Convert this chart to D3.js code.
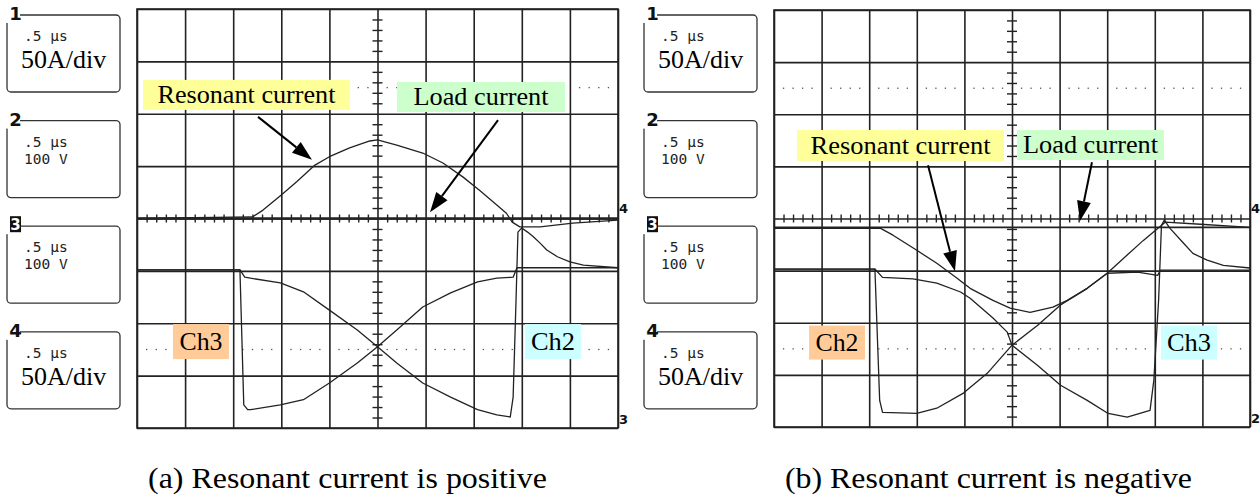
<!DOCTYPE html>
<html>
<head>
<meta charset="utf-8">
<script src="https://cdn.jsdelivr.net/npm/d3@7"></script>
<style>
  body { margin: 0; background: #fff; }
  svg { display: block; }
</style>
</head>
<body>
<div id="chart"></div>
<script>
////////////////////////////////////////////////////////////////////////
// Data read off the two scope captures.
// Each trace is [time (us), level (divisions from screen centre)]
// Time base 0.5 us/div, 10 divisions -> 0..5 us, 8 vertical divisions.

// (a) resonant current is positive
let resonantA = [[0,0],[1.20,0.03],[1.31,0.16],[1.50,0.45],[1.66,0.70],[1.85,1.02],[2.00,1.18],
  [2.21,1.35],[2.42,1.48],[2.50,1.50],[2.70,1.40],[2.97,1.25],[3.18,1.06],[3.39,0.79],[3.56,0.54],
  [3.74,0.26],[3.84,0.10],[3.90,-0.07],[3.98,-0.16],[4.19,-0.16],[4.53,-0.09],[5.00,-0.03]];
let loadA = [[0,0],[5,0]];
let ch3A = [[0,-0.98],[1.07,-0.98],[1.11,-3.56],[1.15,-3.65],[1.18,-3.65],[1.49,-3.56],[1.73,-3.46],
  [2.00,-3.14],[2.29,-2.76],[2.50,-2.45],[2.70,-2.13],[2.97,-1.69],[3.26,-1.42],[3.54,-1.21],
  [3.74,-1.14],[3.91,-1.12],[3.95,-0.94],[5.00,-0.94]];
let ch2A = [[0,-0.98],[1.07,-0.98],[1.12,-1.12],[1.18,-1.14],[1.49,-1.23],[1.73,-1.40],[2.00,-1.75],
  [2.29,-2.13],[2.50,-2.45],[2.70,-2.76],[2.97,-3.14],[3.26,-3.41],[3.54,-3.65],[3.74,-3.75],
  [3.88,-3.79],[3.91,-3.41],[3.94,-1.56],[3.96,-0.26],[4.00,-0.18],[4.06,-0.26],[4.12,-0.35],
  [4.19,-0.47],[4.26,-0.60],[4.37,-0.73],[4.50,-0.83],[4.64,-0.89],[5.00,-0.94]];

// (b) resonant current is negative
let resonantB = [[0,-0.19],[1.12,-0.19],[1.25,-0.32],[1.50,-0.61],[1.71,-0.86],[1.92,-1.14],
  [2.06,-1.34],[2.30,-1.57],[2.48,-1.72],[2.69,-1.80],[2.93,-1.70],[3.08,-1.57],[3.29,-1.34],
  [3.50,-1.05],[3.71,-0.70],[3.88,-0.42],[4.03,-0.19],[4.11,-0.07],[4.48,-0.11],[5.00,-0.17]];
let loadB = [[0,-0.17],[5,-0.17]];
let ch2B = [[0,-0.97],[1.06,-0.97],[1.11,-3.49],[1.14,-3.72],[1.50,-3.74],[1.71,-3.64],[1.99,-3.35],
  [2.24,-2.97],[2.50,-2.43],[2.77,-2.05],[3.01,-1.66],[3.29,-1.34],[3.50,-1.05],[3.82,-1.03],
  [4.03,-1.09],[4.06,-0.99],[5.00,-0.99]];
let ch3B = [[0,-0.97],[1.06,-0.97],[1.14,-1.13],[1.46,-1.16],[1.71,-1.24],[1.96,-1.41],[2.06,-1.53],
  [2.30,-1.91],[2.45,-2.18],[2.50,-2.43],[2.77,-2.82],[3.01,-3.20],[3.29,-3.49],[3.51,-3.74],
  [3.71,-3.81],[3.95,-3.68],[3.99,-3.10],[4.04,-1.57],[4.07,-0.13],[4.10,-0.03],[4.16,-0.19],
  [4.30,-0.47],[4.40,-0.67],[4.55,-0.80],[4.72,-0.90],[5.00,-0.95]];

// channel readouts on the left of each screen
let channelIds = ["1", "2", "3", "4"];
let timeBase = [".5 μs", ".5 μs", ".5 μs", ".5 μs"];
let channelScale = ["50A/div", "100 V", "100 V", "50A/div"];

// annotation texts
let labelTextsA = ["Resonant current", "Load current", "Ch3", "Ch2"];
let labelTextsB = ["Resonant current", "Load current", "Ch2", "Ch3"];
let captions = ["(a) Resonant current is positive", "(b) Resonant current is negative"];

////////////////////////////////////////////////////////////////////////

let width = 1260;
let height = 497;
let serif = "'Liberation Serif','Times New Roman',serif";
let mono = "'DejaVu Sans Mono','Liberation Mono',monospace";
let sans = "'DejaVu Sans','Liberation Sans',sans-serif";
let ink = "#222";

let svg = d3.select("#chart")
  .append("svg")
  .attr("width", width).attr("height", height);

// label styles, positions in data units (t, v)
let labelFills = ["#ffff99", "#ccffcc", "#ffcc99", "#ccffff"];

let panels = [
  {
    left: 137, right: 618, top: 9, bottom: 428,
    traces: [ {d: resonantA, w: 1.3}, {d: loadA, w: 2.6}, {d: ch3A, w: 1.3}, {d: ch2A, w: 1.3} ],
    labels: [
      {t: 1.138, v: 2.36, w: 207, h: 30, len: 178, size: 25, fill: labelFills[0]},
      {t: 3.576, v: 2.32, w: 168, h: 30, len: 135, size: 25, fill: labelFills[1]},
      {t: 0.665, v: -2.35, w: 56, h: 35, len: 43, size: 26, fill: labelFills[2]},
      {t: 4.324, v: -2.35, w: 56, h: 35, len: 44, size: 26, fill: labelFills[3]}
    ],
    texts: labelTextsA,
    arrows: [ {t0: 1.258, v0: 1.94, t1: 1.819, v1: 1.12}, {t0: 3.753, v0: 1.88, t1: 3.046, v1: 0.12} ],
    markers: [ {txt: "4", v: 0.22}, {txt: "3", v: -3.8} ],
    caption: captions[0], capLen: 399
  },
  {
    left: 774, right: 1250, top: 10, bottom: 427,
    traces: [ {d: resonantB, w: 1.3}, {d: loadB, w: 1.8}, {d: ch2B, w: 1.3}, {d: ch3B, w: 1.3} ],
    labels: [
      {t: 1.329, v: 1.40, w: 207, h: 31, len: 180, size: 25, fill: labelFills[0]},
      {t: 3.325, v: 1.41, w: 147, h: 30, len: 135, size: 25, fill: labelFills[1]},
      {t: 0.662, v: -2.38, w: 56, h: 34, len: 43, size: 26, fill: labelFills[2]},
      {t: 4.359, v: -2.38, w: 56, h: 34, len: 44, size: 26, fill: labelFills[3]}
    ],
    texts: labelTextsB,
    arrows: [ {t0: 1.618, v0: 1.02, t1: 1.901, v1: -1.01}, {t0: 3.340, v0: 1.08, t1: 3.214, v1: -0.05} ],
    markers: [ {txt: "4", v: 0.22}, {txt: "2", v: -3.8} ],
    caption: captions[1], capLen: 407
  }
];

////////////////////////////////////////////////////////////////////////

panels.forEach(function(p) {
  let x = d3.scaleLinear().domain([0, 5]).range([p.left, p.right]);
  let y = d3.scaleLinear().domain([-4, 4]).range([p.bottom, p.top]);
  let g = svg.append("g");

  // graticule via axes with full-length ticks
  let majorT = d3.range(0, 5.001, 0.5);
  let majorV = d3.range(-4, 4.001, 1);
  g.append("g")
    .attr("transform", "translate(0," + p.bottom + ")")
    .call(d3.axisBottom(x).tickValues(majorT).tickSize(-(p.bottom - p.top)).tickFormat(""));
  g.append("g")
    .attr("transform", "translate(" + p.left + ",0)")
    .call(d3.axisLeft(y).tickValues(majorV).tickSize(-(p.right - p.left)).tickFormat(""));
  g.selectAll(".domain").remove();
  g.selectAll(".tick line").attr("stroke", ink).attr("stroke-width", 1.6);
  g.append("rect")
    .attr("x", p.left).attr("y", p.top)
    .attr("width", p.right - p.left).attr("height", p.bottom - p.top)
    .attr("fill", "none").attr("stroke", ink).attr("stroke-width", 1.6);

  // minor ticks on the centre axes
  let minorT = d3.range(0, 50.001, 1).map(d => d / 10).filter(d => Math.round(d * 10) % 5 != 0);
  let minorV = d3.range(-20, 20.001, 1).map(d => d / 5).filter(d => Math.round(d * 5) % 5 != 0);
  let mid = g.append("g").attr("class", "minor");
  mid.append("g").attr("transform", "translate(0," + y(0) + ")")
    .call(d3.axisBottom(x).tickValues(minorT).tickSize(4).tickFormat(""));
  mid.append("g").attr("transform", "translate(0," + y(0) + ")")
    .call(d3.axisTop(x).tickValues(minorT).tickSize(4).tickFormat(""));
  mid.append("g").attr("transform", "translate(" + x(2.5) + ",0)")
    .call(d3.axisLeft(y).tickValues(minorV).tickSize(5).tickFormat(""));
  mid.append("g").attr("transform", "translate(" + x(2.5) + ",0)")
    .call(d3.axisRight(y).tickValues(minorV).tickSize(5).tickFormat(""));
  mid.selectAll(".domain").remove();
  mid.selectAll(".tick line").attr("stroke", ink).attr("stroke-width", 1.4);

  // dotted reference rows at +/-2.5 div
  let dots = [];
  [2.5, -2.5].forEach(v => minorT.forEach(t => dots.push([t, v])));
  g.append("g").selectAll("rect")
    .data(dots).enter().append("rect")
    .attr("x", d => x(d[0]) - 0.6).attr("y", d => y(d[1]) - 0.6)
    .attr("width", 1.3).attr("height", 1.3)
    .attr("fill", "#555");

  // traces
  let line = d3.line().x(d => x(d[0])).y(d => y(d[1]));
  g.append("g").selectAll("path")
    .data(p.traces).enter().append("path")
    .attr("d", d => line(d.d))
    .attr("fill", "none")
    .attr("stroke", ink)
    .attr("stroke-width", d => d.w)
    .attr("stroke-linejoin", "round");

  // channel markers on the right edge
  g.selectAll(".marker")
    .data(p.markers).enter().append("text")
    .attr("class", "marker")
    .attr("x", p.right + 1).attr("y", d => y(d.v) + 6)
    .attr("font-family", sans).attr("font-weight", "bold").attr("font-size", 13)
    .attr("fill", "#111")
    .text(d => d.txt);

  // arrows
  p.arrows.forEach(function(a) {
    let x0 = x(a.t0), y0 = y(a.v0), x1 = x(a.t1), y1 = y(a.v1);
    let ang = Math.atan2(y1 - y0, x1 - x0);
    let hl = 20, hw = 7;
    let bx = x1 - hl * Math.cos(ang), by = y1 - hl * Math.sin(ang);
    g.append("line")
      .attr("x1", x0).attr("y1", y0).attr("x2", bx).attr("y2", by)
      .attr("stroke", "#000").attr("stroke-width", 2);
    g.append("path")
      .attr("d", d3.line()([[x1, y1],
        [bx + hw * Math.sin(ang), by - hw * Math.cos(ang)],
        [bx - hw * Math.sin(ang), by + hw * Math.cos(ang)]]) + "Z")
      .attr("fill", "#000");
  });

  // labels
  p.labels.forEach(function(l, i) {
    let cx = x(l.t), cy = y(l.v);
    g.append("rect")
      .attr("x", cx - l.w / 2).attr("y", cy - l.h / 2)
      .attr("width", l.w).attr("height", l.h)
      .attr("fill", l.fill);
    g.append("text")
      .attr("x", cx).attr("y", cy + l.size * 0.33)
      .attr("text-anchor", "middle")
      .attr("font-family", serif).attr("font-size", l.size)
      .attr("textLength", l.len).attr("lengthAdjust", "spacingAndGlyphs")
      .attr("fill", "#000")
      .text(p.texts[i]);
  });

  // readout boxes to the left of the screen
  let bx = p.left - 130;
  channelIds.forEach(function(ch, i) {
    let by = 15 + i * 105.6;
    let b = g.append("g").attr("transform", "translate(" + bx + "," + by + ")");
    b.append("rect")
      .attr("width", 113).attr("height", 77).attr("rx", 4)
      .attr("fill", "none").attr("stroke", "#333").attr("stroke-width", 1.3);
    b.append("rect")
      .attr("x", -2).attr("y", -10).attr("width", 15).attr("height", 18)
      .attr("fill", "#fff");
    if (ch == "3") {
      b.append("rect").attr("x", 3).attr("y", -10).attr("width", 11).attr("height", 16).attr("fill", "#111");
      b.append("text").attr("x", 8.5).attr("y", 4).attr("text-anchor", "middle")
        .attr("font-family", sans).attr("font-weight", "bold").attr("font-size", 15)
        .attr("fill", "#fff").text(ch);
    } else {
      b.append("text").attr("x", 8.5).attr("y", 5).attr("text-anchor", "middle")
        .attr("font-family", sans).attr("font-weight", "bold").attr("font-size", 18)
        .attr("fill", "#111").text(ch);
    }
    b.append("text")
      .attr("x", 17).attr("y", 26)
      .attr("font-family", mono).attr("font-size", 14.5)
      .attr("fill", "#222")
      .text(timeBase[i]);
    if (channelScale[i].indexOf("div") >= 0) {
      b.append("text")
        .attr("x", 14).attr("y", 53)
        .attr("font-family", serif).attr("font-size", 26)
        .attr("fill", "#000")
        .text(channelScale[i]);
    } else {
      b.append("text")
        .attr("x", 17).attr("y", 43)
        .attr("font-family", mono).attr("font-size", 14.5)
        .attr("fill", "#222")
        .text(channelScale[i]);
    }
  });

  // caption
  g.append("text")
    .attr("x", p.left + 11).attr("y", 488)
    .attr("font-family", serif).attr("font-size", 29)
    .attr("textLength", p.capLen).attr("lengthAdjust", "spacingAndGlyphs")
    .attr("fill", "#000")
    .text(p.caption);
});
</script>
</body>
</html>
